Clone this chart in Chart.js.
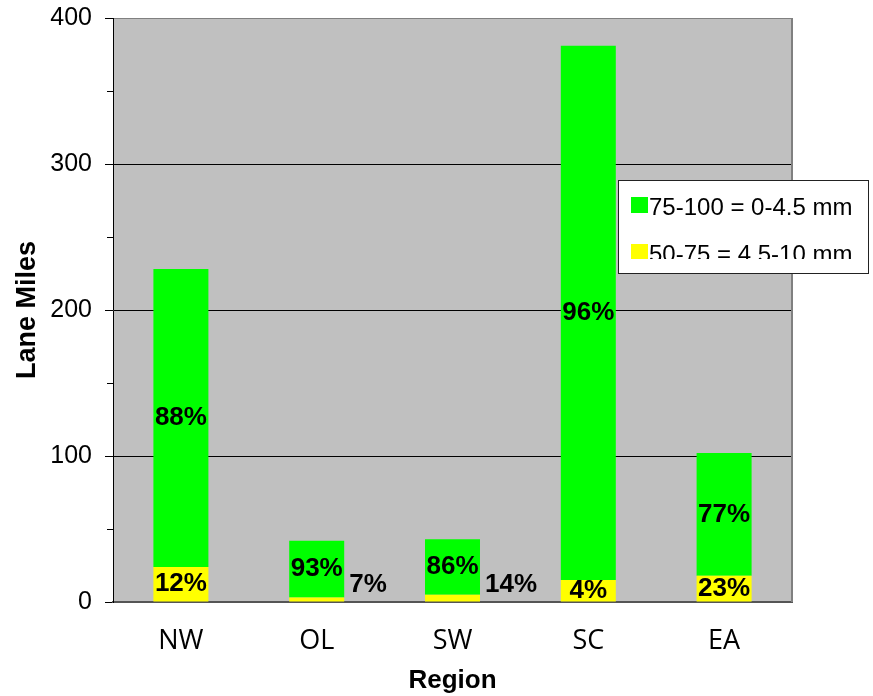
<!DOCTYPE html>
<html>
<head>
<meta charset="utf-8">
<script src="https://cdn.jsdelivr.net/npm/chart.js@4.4.0/dist/chart.umd.min.js"></script>
<style>
  body { margin: 0; background: #fff; }
  canvas { display: block; }
</style>
</head>
<body>
<canvas id="myChart" width="873" height="696"></canvas>
<script>
// data
var regions = ["NW", "OL", "SW", "SC", "EA"];
var good_miles = [204, 39, 38, 366, 84];   // 75-100 = 0-4.5 mm
var fair_miles = [24, 3, 5, 15, 18];       // 50-75 = 4.5-10 mm
var good_pct = ["88%", "93%", "86%", "96%", "77%"];
var fair_pct = ["12%", "7%", "14%", "4%", "23%"];
var y_ticks = [0, 100, 200, 300, 400];

// gray plot background + border
const plotBack = {
	id: "plotBack",
	beforeDraw: function (chart) {
		const ctx = chart.ctx;
		const a = chart.chartArea;
		ctx.save();
		ctx.fillStyle = "#c0c0c0";
		ctx.fillRect(a.left, a.top, a.right - a.left, a.bottom - a.top);
		ctx.restore();
	},
	afterDraw: function (chart) {
		const ctx = chart.ctx;
		const a = chart.chartArea;
		const y = chart.scales.y;
		ctx.save();
		ctx.strokeStyle = "#808080";
		ctx.lineWidth = 2;
		ctx.beginPath();
		ctx.moveTo(a.right, a.top);
		ctx.lineTo(a.right, a.bottom);
		ctx.stroke();
		// minor ticks halfway between labels
		ctx.strokeStyle = "#000";
		ctx.lineWidth = 1;
		for (let i = 0; i < y_ticks.length - 1; i++) {
			const py = Math.round(y.getPixelForValue((y_ticks[i] + y_ticks[i + 1]) / 2)) + 0.5;
			ctx.beginPath();
			ctx.moveTo(a.left - 6, py);
			ctx.lineTo(a.left, py);
			ctx.stroke();
		}
		ctx.restore();
	},
};

// percent labels on the segments
const pctLabels = {
	id: "pctLabels",
	afterDatasetsDraw: function (chart) {
		const ctx = chart.ctx;
		ctx.save();
		ctx.font = "bold 26px 'Liberation Sans', Arial, sans-serif";
		ctx.fillStyle = "#000";
		ctx.textBaseline = "middle";
		const lists = [fair_pct, good_pct];
		chart.data.datasets.forEach(function (ds, di) {
			const meta = chart.getDatasetMeta(di);
			meta.data.forEach(function (bar, i) {
				const p = bar.getProps(["x", "y", "base", "width"], true);
				const h = p.base - p.y;
				if (h > 20) {
					ctx.textAlign = "center";
					ctx.fillText(lists[di][i], p.x, (p.y + p.base) / 2);
				} else {
					ctx.textAlign = "left";
					ctx.fillText(lists[di][i], p.x + p.width / 2 + 5, p.base - 17);
				}
			});
		});
		ctx.restore();
	},
};

// boxed legend, clipped like the original
const boxLegend = {
	id: "boxLegend",
	afterDraw: function (chart) {
		const ctx = chart.ctx;
		const bx = 618, by = 180, bw = 250, bh = 93;
		ctx.save();
		ctx.fillStyle = "#fff";
		ctx.fillRect(bx, by, bw, bh);
		ctx.beginPath();
		ctx.rect(bx, by, bw, 79);
		ctx.clip();
		ctx.font = "24px 'Liberation Sans', Arial, sans-serif";
		ctx.textBaseline = "alphabetic";
		ctx.textAlign = "left";
		const items = chart.data.datasets.slice().reverse();
		items.forEach(function (ds, i) {
			const ty = by + 17 + i * 47;
			ctx.fillStyle = ds.backgroundColor;
			ctx.fillRect(bx + 13, ty, 17, 16);
			ctx.fillStyle = "#000";
			ctx.fillText(ds.label, bx + 31, ty + 18);
		});
		ctx.restore();
		ctx.save();
		ctx.strokeStyle = "#222";
		ctx.lineWidth = 1;
		ctx.strokeRect(bx + 0.5, by + 0.5, bw, bh);
		ctx.restore();
	},
};

const data = {
	labels: regions,
	datasets: [
		{
			label: "50-75 = 4.5-10 mm",
			backgroundColor: "#ffff00",
			borderWidth: 0,
			data: fair_miles,
		},
		{
			label: "75-100 = 0-4.5 mm",
			backgroundColor: "#00ff00",
			borderWidth: 0,
			data: good_miles,
		},
	],
};

const config = {
	type: "bar",
	data: data,
	options: {
		responsive: false,
		animation: false,
		layout: { padding: { top: 18, right: 81, left: 0, bottom: 0 } },
		datasets: { bar: { categoryPercentage: 1, barPercentage: 0.405 } },
		plugins: {
			legend: { display: false },
			tooltip: { enabled: false },
		},
		scales: {
			x: {
				stacked: true,
				afterFit: function (s) {
					s.height = 94;
					s.paddingLeft = 0;
					s.paddingRight = 0;
				},
				grid: { display: false },
				border: { display: true, color: "#555", width: 2 },
				ticks: {
					color: "#000",
					padding: 15,
					font: { family: "'Open Sans', sans-serif", size: 27 },
				},
				title: {
					display: true,
					text: "Region",
					color: "#000",
					padding: { top: 0, bottom: 0 },
					font: { family: "'Liberation Sans', Arial, sans-serif", size: 26, weight: "bold" },
				},
			},
			y: {
				stacked: true,
				min: 0,
				max: 400,
				afterFit: function (s) {
					s.width = 113;
					s.paddingTop = 0;
					s.paddingBottom = 0;
				},
				afterBuildTicks: function (s) {
					s.ticks = y_ticks.map(function (v) { return { value: v }; });
				},
				grid: {
					color: function (c) {
						if (c.tick.value === 0) return "rgba(0,0,0,0)";
						if (c.tick.value === 400) return "#808080";
						return "#000";
					},
					tickColor: "#000",
					tickLength: 8,
				},
				border: { display: true, color: "#000", width: 1 },
				ticks: {
					color: "#000",
					padding: 13,
					font: { family: "'Liberation Sans', Arial, sans-serif", size: 25 },
				},
				title: {
					display: true,
					text: "Lane Miles",
					color: "#000",
					padding: { top: 11, bottom: 0 },
					font: { family: "'Liberation Sans', Arial, sans-serif", size: 27, weight: "bold" },
				},
			},
		},
	},
	plugins: [plotBack, pctLabels, boxLegend],
};

const myChart = new Chart(document.getElementById("myChart"), config);
</script>
</body>
</html>
